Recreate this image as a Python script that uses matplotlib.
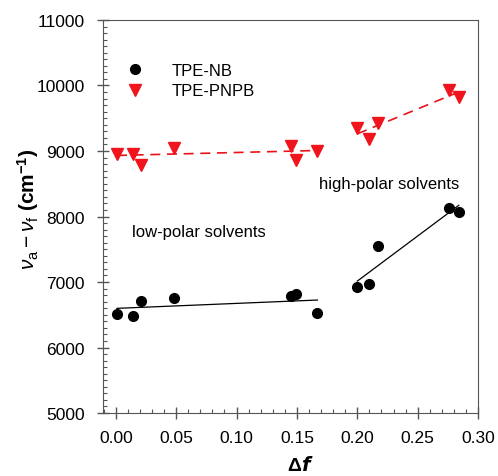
import matplotlib.pyplot as plt
import numpy as np
from matplotlib.ticker import MultipleLocator

plt.rcParams['font.family'] = ['Liberation Sans', 'DejaVu Sans']
plt.rcParams['mathtext.fontset'] = 'custom'
plt.rcParams['mathtext.rm'] = 'Liberation Sans'
plt.rcParams['mathtext.it'] = 'Liberation Sans:italic'
plt.rcParams['mathtext.bf'] = 'Liberation Sans:bold'

# delta f of the solvents
df = [0.001, 0.014, 0.021, 0.048, 0.1447, 0.149, 0.167, 0.200, 0.210, 0.217, 0.276, 0.284]
# Stokes shift, cm-1
nb = [6511, 6476, 6709, 6761, 6781, 6811, 6522, 6928, 6963, 7547, 8135, 8070]
pnpb = [8957, 8947, 8790, 9044, 9084, 8866, 8998, 9353, 9186, 9424, 9936, 9820]

# fit lines (low polar: first 7, high polar: last 5)
low_x = [0.001, 0.167]
nb_low = [6598, 6725]
pnpb_low = [8932, 9008]
high_x = [0.200, 0.284]
nb_high = [7014, 8171]
pnpb_high = [9262, 9901]

fig = plt.figure(figsize=(4.98, 4.77), dpi=100)
ax = fig.add_axes([0.207, 0.132, 0.753, 0.824])

ax.plot(low_x, nb_low, color='black', linewidth=0.9)
ax.plot(high_x, nb_high, color='black', linewidth=0.9)
ax.plot(low_x, pnpb_low, color='#e8121a', linewidth=1.2, linestyle=(0, (6, 4)))
ax.plot(high_x, pnpb_high, color='#e8121a', linewidth=1.2, linestyle=(0, (6, 4)))

ax.plot(df, nb, 'o', color='black', markersize=7, label='TPE-NB')
ax.plot(df, pnpb, 'v', color='#f0141c', markersize=8.5, label='TPE-PNPB')

ax.text(0.0133, 7770, 'low-polar solvents', fontsize=12, va='center')
ax.text(0.168, 8500, 'high-polar solvents', fontsize=12, va='center')

ax.set_xlim(-0.0105, 0.30)
ax.set_ylim(5000, 11000)
ax.xaxis.set_major_locator(MultipleLocator(0.05))
ax.xaxis.set_minor_locator(MultipleLocator(0.01))
ax.yaxis.set_major_locator(MultipleLocator(1000))
ax.yaxis.set_minor_locator(MultipleLocator(100))
ax.xaxis.set_major_formatter(plt.FormatStrFormatter('%.2f'))
ax.tick_params(which='major', direction='inout', length=8, width=1, labelsize=12.5, color='#555555')
ax.tick_params(axis='y', which='major', pad=9)
ax.tick_params(axis='x', which='major', pad=8)
ax.tick_params(which='minor', direction='in', length=3, width=0.8, color='#555555')
for s in ax.spines.values():
    s.set_color('#555555')

ax.set_xlabel(r'$\mathbf{\Delta}\mathbfit{f}$', fontsize=14, va='center')
ax.xaxis.set_label_coords(0.525, -0.13)
ax.set_ylabel(r'$\nu_{\mathrm{a}} - \nu_{\mathrm{f}}$ $\mathbf{(cm^{-1})}$', fontsize=15, va='center')
ax.yaxis.set_label_coords(-0.2, 0.52)

leg = ax.legend(loc='upper left', bbox_to_anchor=(0.0, 0.93), frameon=False, fontsize=12,
                handletextpad=1.2, labelspacing=0.35)

fig.savefig('out.png', dpi=100)
